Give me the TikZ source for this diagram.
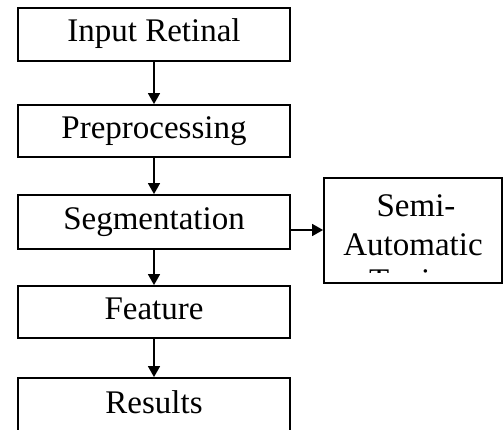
\documentclass[tikz,border=0pt]{standalone}
\usepackage{fontspec}
\setmainfont{Liberation Serif}
\usetikzlibrary{arrows.meta}
\begin{document}
\begin{tikzpicture}[x=1pt,y=1pt,
  stepbox/.style={draw=black,line width=1.8pt,minimum width=272pt,font=\fontsize{33}{38}\selectfont,text height=22pt,text depth=7pt,inner sep=0pt},
  flow/.style={line width=1.5pt,-{Triangle[width=12pt,length=11pt]}},
  semitext/.style={font=\fontsize{33}{38}\selectfont,inner sep=0pt,anchor=base}]
\useasboundingbox (0,0) rectangle (503,430);
\clip (0,0) rectangle (503,430);
\node[stepbox,minimum height=53pt] (inp) at (154,430-34.5) {Input Retinal};
\node[stepbox,minimum height=52pt] (pre) at (154,430-131) {Preprocessing};
\node[stepbox,minimum height=54pt] (seg) at (154,430-222) {Segmentation};
\node[stepbox,minimum height=52pt] (fea) at (154,430-312) {Feature};
\node[stepbox,minimum height=56pt] (res) at (154,430-406) {Results};
\node[draw=black,line width=1.8pt,minimum width=178pt,minimum height=105pt,inner sep=0pt] (semi) at (413,430-230.5) {};
\node[semitext] (s1) at (416,430-217) {Semi-};
\node[semitext] (s2) at (413,430-256) {Automatic};
\begin{scope}
\clip (330,430-272.8) rectangle (500,430-269.5);
\node[semitext,anchor=base west] (s3) at (369,430-292) {Tuning};
\end{scope}
\draw[flow] (inp) -- (pre);
\draw[flow] (pre) -- (seg);
\draw[flow] (seg) -- (fea);
\draw[flow] (fea) -- (res);
\draw[flow] (seg.east |- 0,430-230) -- (semi.west |- 0,430-230);
\end{tikzpicture}
\end{document}
